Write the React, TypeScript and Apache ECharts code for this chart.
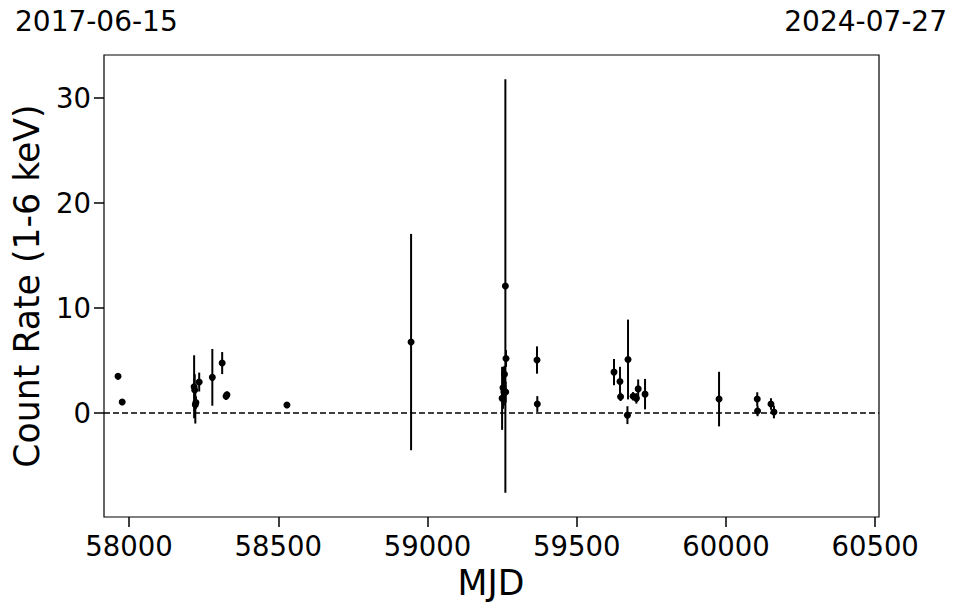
import React, { useEffect, useRef } from "react";
import * as echarts from "echarts";

// MJD of each observation, count rate (1-6 keV), and symmetric 1-sigma error
const mjd = [
  57963, 57977, 58218, 58220, 58222, 58224, 58235, 58279, 58312, 58325, 58328,
  58529, 58945, 59250, 59253, 59256, 59258, 59261, 59262, 59263, 59367, 59368,
  59625, 59645, 59647, 59670, 59672, 59689, 59700, 59706, 59729, 59977, 60105,
  60106, 60151, 60161,
];
const rate = [
  3.5, 1.05, 2.5, 2.2, 0.8, 1.0, 2.95, 3.4, 4.76, 1.6, 1.75,
  0.76, 6.76, 1.4, 2.4, 2.0, 3.7, 12.1, 2.0, 5.2, 5.05, 0.86,
  3.9, 3.0, 1.55, -0.2, 5.1, 1.6, 1.4, 2.3, 1.8, 1.33, 1.33,
  0.2, 0.86, 0.1,
];
const err = [
  0.3, 0.15, 3.0, 1.5, 1.8, 0.6, 0.9, 2.7, 1.05, 0.35, 0.3,
  0.15, 10.3, 3.0, 2.0, 1.3, 0.8, 19.7, 1.0, 0.8, 1.3, 0.75,
  1.25, 1.4, 0.4, 0.85, 3.8, 0.4, 0.5, 0.9, 1.45, 2.6, 0.65,
  0.5, 0.55, 0.6,
];
const xTicks = [58000, 58500, 59000, 59500, 60000, 60500];
const yTicks = [0, 10, 20, 30];
const startDate = "2017-06-15";
const endDate = "2024-07-27";

const FONT = "DejaVu Sans";

export default function App() {
  const ref = useRef<HTMLDivElement>(null);
  useEffect(() => {
    if (!ref.current) return;
    const chart = echarts.init(ref.current, null, { renderer: "svg" });
    const bars = mjd.map((m, i) => [m, rate[i] - err[i], rate[i] + err[i]]);
    const pts = mjd.map((m, i) => [m, rate[i]]);
    chart.setOption({
      animation: false,
      backgroundColor: "#fff",
      grid: {
        left: 104,
        right: 78,
        top: 55,
        bottom: 96,
        show: true,
        borderColor: "#000",
        borderWidth: 1.2,
        backgroundColor: "transparent",
      },
      xAxis: {
        type: "value",
        min: 57916,
        max: 60513,
        splitLine: { show: false },
        axisLine: { show: false, onZero: false },
        axisTick: {
          show: true,
          length: 10,
          customValues: xTicks,
          lineStyle: { color: "#000", width: 1.5 },
        },
        axisLabel: {
          customValues: xTicks,
          formatter: (v: number) => String(v),
          fontSize: 27.5,
          fontFamily: FONT,
          color: "#000",
          margin: 15,
        },
      },
      yAxis: {
        type: "value",
        min: -9.9,
        max: 34.1,
        splitLine: { show: false },
        axisLine: { show: false, onZero: false },
        axisTick: {
          show: true,
          length: 10,
          customValues: yTicks,
          lineStyle: { color: "#000", width: 1.5 },
        },
        axisLabel: {
          customValues: yTicks,
          formatter: (v: number) => String(v),
          fontSize: 27.5,
          fontFamily: FONT,
          color: "#000",
          margin: 13,
        },
      },
      graphic: [
        {
          type: "text",
          left: 15,
          top: 7,
          style: { text: startDate, fontSize: 28, fontFamily: FONT, fill: "#000" },
        },
        {
          type: "text",
          right: 10,
          top: 7,
          style: { text: endDate, fontSize: 28, fontFamily: FONT, fill: "#000" },
        },
        {
          type: "text",
          x: 491,
          y: 583,
          style: {
            text: "MJD",
            fontSize: 34.7,
            fontFamily: FONT,
            fill: "#000",
            align: "center",
            verticalAlign: "middle",
          },
        },
        {
          type: "text",
          x: 27,
          y: 286,
          rotation: Math.PI / 2,
          style: {
            text: "Count Rate (1-6 keV)",
            fontSize: 34.7,
            fontFamily: FONT,
            fill: "#000",
            align: "center",
            verticalAlign: "middle",
          },
        },
      ],
      series: [
        {
          type: "custom",
          data: bars,
          encode: { x: 0, y: [1, 2] },
          clip: true,
          z: 2,
          renderItem: (params: any, api: any) => {
            const x = api.value(0);
            const p1 = api.coord([x, api.value(1)]);
            const p2 = api.coord([x, api.value(2)]);
            return {
              type: "line",
              shape: { x1: p1[0], y1: p1[1], x2: p2[0], y2: p2[1] },
              style: { stroke: "#000", lineWidth: 2 },
            };
          },
        },
        {
          type: "scatter",
          data: pts,
          symbol: "circle",
          symbolSize: 7,
          itemStyle: { color: "#000", opacity: 1 },
          z: 3,
          markLine: {
            silent: true,
            symbol: "none",
            label: { show: false },
            lineStyle: { color: "#000", width: 1.5, type: [6, 3], opacity: 1 },
            data: [{ yAxis: 0 }],
          },
        },
      ],
    });
    return () => chart.dispose();
  }, []);
  return (
    <div
      ref={ref}
      style={{ position: "absolute", left: 0, top: 0, width: 957, height: 613 }}
    />
  );
}
